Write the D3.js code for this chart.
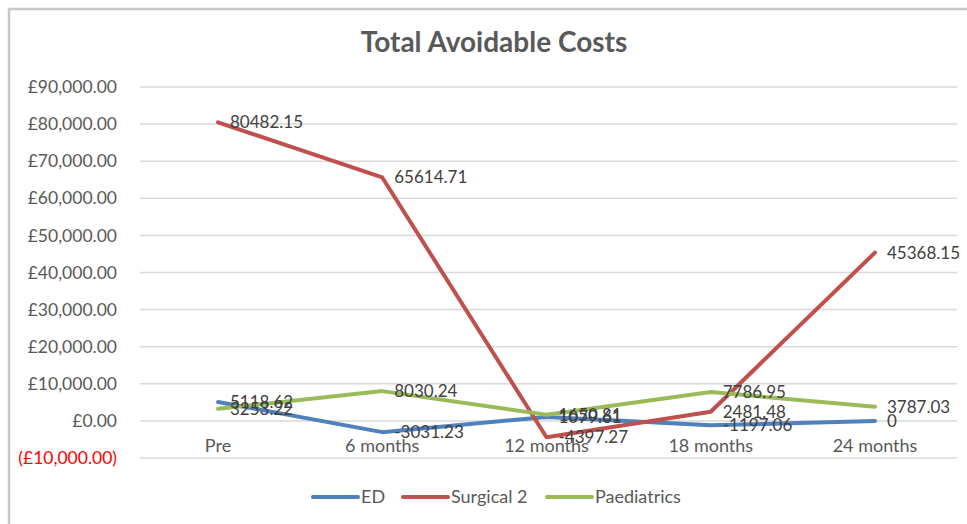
<!DOCTYPE html>
<html>
<head>
<meta charset="utf-8">
<script src="https://cdn.jsdelivr.net/npm/d3@7"></script>
<style>
  body { margin: 0; background: #fff; }
  text { font-family: Lato, "Open Sans", sans-serif; }
</style>
</head>
<body>
<script>
// categories and series
categories = ["Pre", "6 months", "12 months", "18 months", "24 months"]
edValues = [5118.62, -3031.23, 1079.61, -1197.06, 0]
surgicalValues = [80482.15, 65614.71, -4397.27, 2481.48, 45368.15]
paedValues = [3253.22, 8030.24, 1650.81, 7786.95, 3787.03]
yTicks = [-10000, 0, 10000, 20000, 30000, 40000, 50000, 60000, 70000, 80000, 90000]

series = [
	{name: "ED", values: edValues, color: "#4f81bd"},
	{name: "Surgical 2", values: surgicalValues, color: "#c0504d"},
	{name: "Paediatrics", values: paedValues, color: "#9bbb59"},
]

width = 967
height = 524

var svg = d3.select("body").append("svg")
	.attr("width", width)
	.attr("height", height)

// chart border
svg.append("rect")
	.attr("x", 9).attr("y", 9)
	.attr("width", width).attr("height", height)
	.attr("fill", "none")
	.attr("stroke", "#c8c8c8")
	.attr("stroke-width", 2.5)

x = d3.scalePoint()
	.domain(categories)
	.range([218, 875])

y = d3.scaleLinear()
	.domain([-10000, 90000])
	.range([458, 87])

var fmt = d3.format(",.2f")
var money = v => v < 0 ? "(£" + fmt(-v) + ")" : "£" + fmt(v)

// gridlines
svg.append("g")
	.selectAll("line")
	.data(yTicks)
	.join("line")
	.attr("x1", 140).attr("x2", 957)
	.attr("y1", d => y(d)).attr("y2", d => y(d))
	.attr("stroke", "#d9d9d9")
	.attr("stroke-width", 1.5)

// y axis labels
svg.append("g")
	.selectAll("text")
	.data(yTicks)
	.join("text")
	.attr("x", 117)
	.attr("y", d => y(d))
	.attr("dy", "0.35em")
	.attr("text-anchor", "end")
	.attr("font-size", 17.5)
	.attr("fill", d => d < 0 ? "#ff0000" : "#595959")
	.text(money)

// category labels
svg.append("g")
	.selectAll("text")
	.data(categories)
	.join("text")
	.attr("x", d => x(d))
	.attr("y", y(0) + 31)
	.attr("text-anchor", "middle")
	.attr("font-size", 18)
	.attr("fill", "#595959")
	.text(d => d)

// title
svg.append("text")
	.attr("x", 494)
	.attr("y", 52)
	.attr("text-anchor", "middle")
	.attr("font-size", 28)
	.attr("font-weight", "bold")
	.attr("fill", "#595959")
	.text("Total Avoidable Costs")

var line = d3.line()
	.x((d, i) => x(categories[i]))
	.y(d => y(d))

svg.append("g")
	.selectAll("path")
	.data(series)
	.join("path")
	.attr("d", d => line(d.values))
	.attr("fill", "none")
	.attr("stroke", d => d.color)
	.attr("stroke-width", 4)
	.attr("stroke-linejoin", "round")
	.attr("stroke-linecap", "round")

// data labels
series.forEach(s => {
	svg.append("g")
		.selectAll("text")
		.data(s.values)
		.join("text")
		.attr("x", (d, i) => x(categories[i]) + 12)
		.attr("y", d => y(d))
		.attr("dy", "0.35em")
		.attr("font-size", 17)
		.attr("fill", "#404040")
		.text(d => String(d))
})

// legend
var legendItems = [
	{name: "ED", x: 313},
	{name: "Surgical 2", x: 403},
	{name: "Paediatrics", x: 547},
]
var legend = svg.append("g")
	.selectAll("g")
	.data(series)
	.join("g")
	.attr("transform", (d, i) => "translate(" + legendItems[i].x + ",497)")
legend.append("line")
	.attr("x1", 0).attr("x2", 45)
	.attr("stroke", d => d.color)
	.attr("stroke-width", 4)
	.attr("stroke-linecap", "round")
legend.append("text")
	.attr("x", 48)
	.attr("dy", "0.35em")
	.attr("font-size", 18)
	.attr("fill", "#595959")
	.text(d => d.name)
</script>
</body>
</html>
